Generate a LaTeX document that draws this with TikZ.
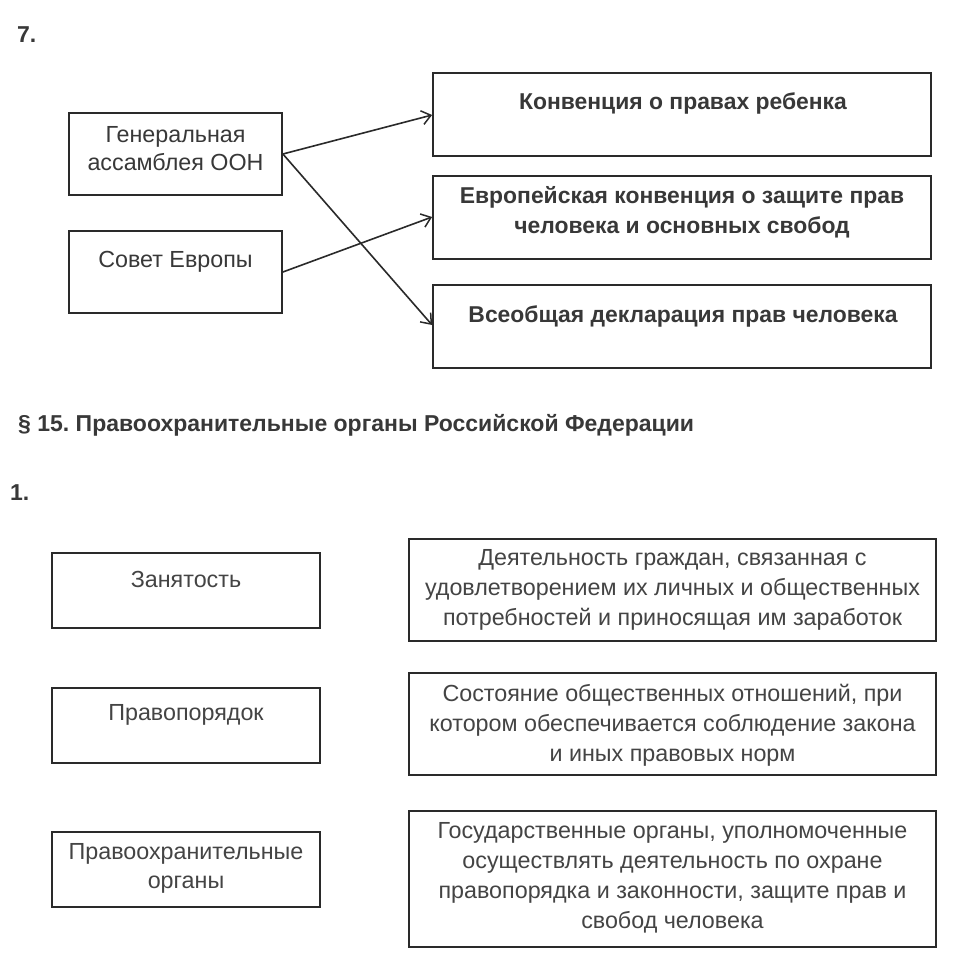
\documentclass[tikz,border=0pt]{standalone}
\usepackage{fontspec}
\setmainfont{Liberation Sans}
\usetikzlibrary{arrows.meta,calc}
\definecolor{ink}{HTML}{2A2A2A}
\definecolor{txt}{HTML}{383838}
\definecolor{ntxt}{HTML}{444444}
\frenchspacing
\begin{document}
\begin{tikzpicture}[x=1pt,y=-1pt,
  box/.style={draw=ink,line width=1.8pt,inner sep=0pt},
  lbl/.style={text=txt,align=center,inner sep=0pt,font=\fontsize{23.3}{28}\selectfont},
  blbl/.style={text=txt,align=center,inner sep=0pt,font=\bfseries\fontsize{22.9}{30}\selectfont},
  hlbl/.style={text=txt,inner sep=0pt,font=\bfseries\fontsize{23}{30}\selectfont},
  nlbl/.style={text=ntxt,align=center,inner sep=0pt,font=\fontsize{23.3}{30}\selectfont},
  conn/.style={draw=ink,line width=1.6pt,-{Straight Barb[length=9pt,width=14pt,line width=1.5pt]}}]
\useasboundingbox (0,0) rectangle (953,962);
\fill[white] (0,0) rectangle (953,962);
% Part 7
\node[hlbl,anchor=west] (n7) at (17,35) {7.};
\node[box,minimum width=213pt,minimum height=82pt] (gen) at (175.5,154) {};
\node[lbl] (gent) at (175.5,149) {Генеральная\\ассамблея ООН};
\node[box,minimum width=213pt,minimum height=82pt] (sov) at (175.5,272) {};
\node[lbl] (sovt) at (175.5,262) {Совет Европы};
\node[box,minimum width=498pt,minimum height=83pt] (kon) at (682,114.5) {};
\node[blbl] (kont) at (683,103) {Конвенция о правах ребенка};
\node[box,minimum width=498pt,minimum height=83pt] (evr) at (682,217.5) {};
\node[blbl] (evrt) at (682,212) {Европейская конвенция о защите прав\\человека и основных свобод};
\node[box,minimum width=498pt,minimum height=83pt] (vse) at (682,326.5) {};
\node[blbl] (vset) at (683,316) {Всеобщая декларация прав человека};
\coordinate (g1) at (gen.east |- 0,154);
\coordinate (s1) at (sov.east |- 0,272);
\draw[conn] (g1) -- (kon.west |- 0,115);
\draw[conn] (g1) -- (vse.west |- 0,325);
\draw[conn] (s1) -- (evr.west |- 0,217);
% Section 15
\node[hlbl,anchor=west] (sec) at (18,425) {§ 15. Правоохранительные органы Российской Федерации};
\node[hlbl,anchor=west] (n1) at (10,493) {1.};
\node[box,minimum width=268pt,minimum height=75pt] (zan) at (186,590.5) {};
\node[nlbl] (zant) at (186,579) {Занятость};
\node[box,minimum width=268pt,minimum height=75pt] (prp) at (186,725.5) {};
\node[nlbl] (prpt) at (186,715) {Правопорядок};
\node[box,minimum width=268pt,minimum height=75pt] (pro) at (186,869.5) {};
\node[nlbl,font=\fontsize{23.3}{29}\selectfont] (prot) at (186,868.5) {Правоохранительные\\органы};
\node[box,minimum width=527pt,minimum height=102pt] (d1) at (672.5,590) {};
\node[nlbl] (d1t) at (672.5,590) {Деятельность граждан, связанная с\\удовлетворением их личных и общественных\\потребностей и приносящая им заработок};
\node[box,minimum width=527pt,minimum height=102pt] (d2) at (672.5,724) {};
\node[nlbl] (d2t) at (672.5,725) {Состояние общественных отношений, при\\котором обеспечивается соблюдение закона\\и иных правовых норм};
\node[box,minimum width=527pt,minimum height=136pt] (d3) at (672.5,879) {};
\node[nlbl] (d3t) at (672.5,878) {Государственные органы, уполномоченные\\осуществлять деятельность по охране\\правопорядка и законности, защите прав и\\свобод человека};
\end{tikzpicture}
\end{document}
